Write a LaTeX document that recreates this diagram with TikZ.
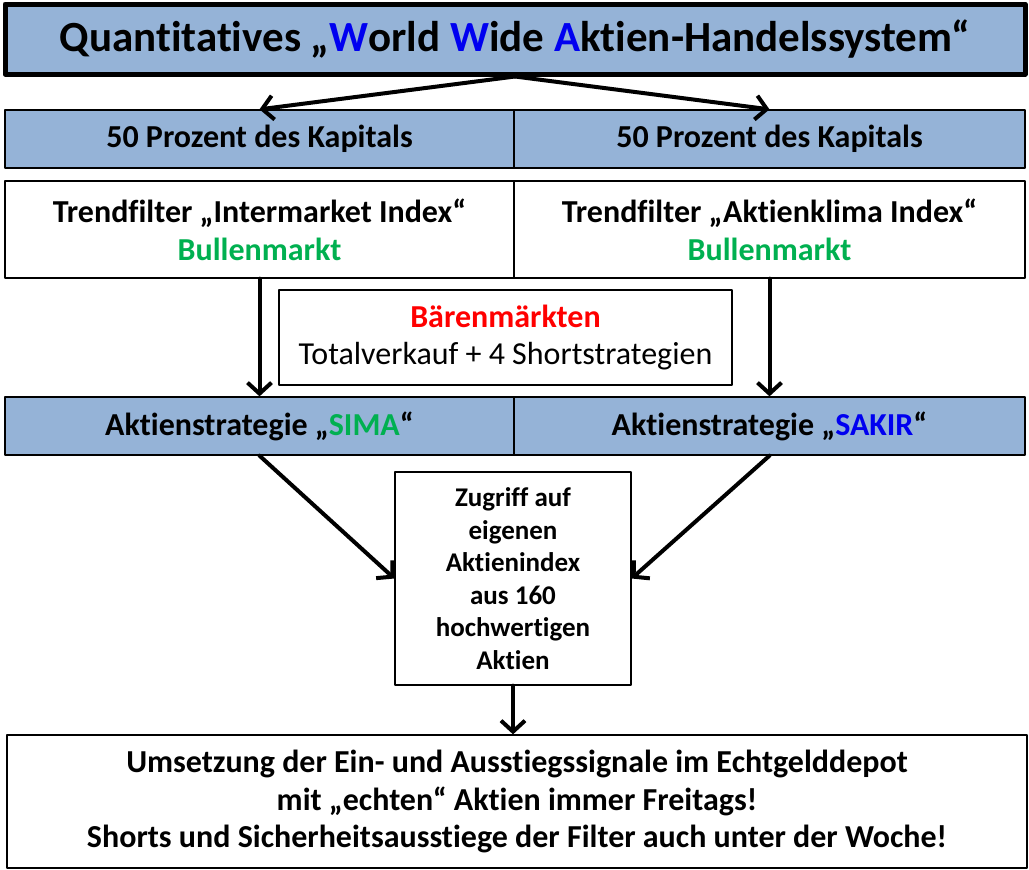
\documentclass[tikz,border=0pt]{standalone}
\usepackage{fontspec}
\setmainfont{Carlito}[Ligatures=NoCommon]
\usetikzlibrary{arrows.meta}
\definecolor{boxblue}{HTML}{95B3D7}
\definecolor{bullgreen}{HTML}{00B050}
\definecolor{wwablue}{HTML}{0000F0}
\definecolor{bearred}{HTML}{FF0000}
\tikzset{
  bluebox/.style={rectangle,draw,fill=boxblue,line width=1.3pt,inner sep=0pt,
    font=\bfseries\fontsize{32}{38}\selectfont},
  whitebox/.style={rectangle,draw,fill=white,line width=1.3pt,inner sep=0pt,align=center},
  arr/.style={-{Straight Barb[length=11pt,width=24pt]},line width=4pt},
  every picture/.style={line cap=round,line join=round}
}

\begin{document}
\begin{tikzpicture}[x=1pt, y=-1pt]
  \useasboundingbox (0,0) rectangle (1029,870);
  % title
  \node[bluebox, line width=5pt, minimum width=1020pt, minimum height=70pt,
        font=\bfseries\fontsize{43}{50}\selectfont] (title) at (515,39)
        {Quantitatives „\textcolor{wwablue}{W}orld \textcolor{wwablue}{W}ide \textcolor{wwablue}{A}ktien-Handelssystem“};
  % capital split
  \node[bluebox, minimum width=509pt, minimum height=58pt] (kapL) at (259.5,139) {50 Prozent des Kapitals};
  \node[bluebox, minimum width=511pt, minimum height=58pt] (kapR) at (769.5,139) {50 Prozent des Kapitals};
  % trend filters
  \node[whitebox, minimum width=509pt, minimum height=97pt, font=\bfseries\fontsize{32}{38}\selectfont] (trendL) at (259.5,229.5)
        {Trendfilter „Intermarket Index“\\\textcolor{bullgreen}{Bullenmarkt}};
  \node[whitebox, minimum width=511pt, minimum height=97pt, font=\bfseries\fontsize{32}{38}\selectfont] (trendR) at (769.5,229.5)
        {Trendfilter „Aktienklima Index“\\\textcolor{bullgreen}{Bullenmarkt}};
  \node[whitebox, minimum width=453pt, minimum height=95pt, font=\fontsize{32}{37}\selectfont] (baer) at (505.5,337.5)
        {\textbf{\textcolor{bearred}{Bärenmärkten}}\\Totalverkauf + 4 Shortstrategien};
  % strategies
  \node[bluebox, minimum width=509pt, minimum height=58pt] (simaL) at (259.5,426) {Aktienstrategie „\textcolor{bullgreen}{SIMA}“};
  \node[bluebox, minimum width=511pt, minimum height=58pt] (sakirR) at (769.5,426) {Aktienstrategie „\textcolor{wwablue}{SAKIR}“};
  % index box
  \node[whitebox, minimum width=236pt, minimum height=213pt, font=\bfseries\fontsize{27}{32.5}\selectfont] (index) at (513,578.5)
        {Zugriff auf\\eigenen\\Aktienindex\\aus 160\\hochwertigen\\Aktien};
  % execution
  \node[whitebox, minimum width=1020pt, minimum height=133pt, font=\bfseries\fontsize{32}{37.5}\selectfont] (umsetz) at (517,801.5)
        {Umsetzung der Ein- und Ausstiegssignale im Echtgelddepot\\mit „echten“ Aktien immer Freitags!\\Shorts und Sicherheitsausstiege der Filter auch unter der Woche!};

  \draw[arr] (title.south) -- (kapL.north);
  \draw[arr] (title.south) -- (kapR.north);
  \draw[arr] (trendL.south) -- (simaL.north);
  \draw[arr] (trendR.south) -- (sakirR.north);
  \draw[arr] (simaL.south) -- (index.west);
  \draw[arr] (sakirR.south) -- (index.east);
  \draw[arr] (index.south) -- (index.south |- umsetz.north);
\end{tikzpicture}
\end{document}
